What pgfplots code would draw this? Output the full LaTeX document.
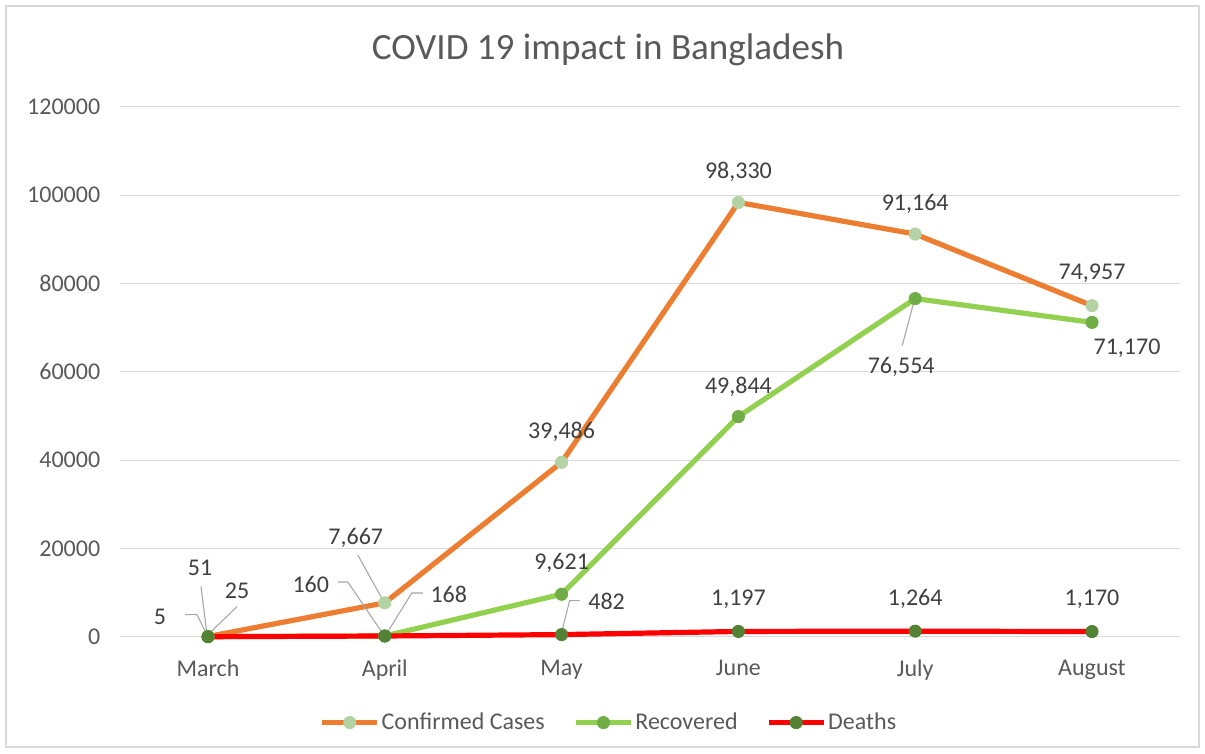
\documentclass[border=0pt]{standalone}
\usepackage{pgfplots}
\pgfplotsset{compat=1.18}
\usepackage{fontspec}
\setmainfont{Carlito}
\definecolor{cOrange}{HTML}{ED7D31}
\definecolor{cConfM}{HTML}{B3D3A5}
\definecolor{cRecL}{HTML}{92D050}
\definecolor{cRecM}{HTML}{70AD47}
\definecolor{cDeaM}{HTML}{548235}
\definecolor{cRed}{HTML}{FF0000}
\definecolor{cGrid}{HTML}{D9D9D9}
\definecolor{cTick}{HTML}{595959}
\definecolor{cLab}{HTML}{404040}
\definecolor{cLead}{HTML}{A6A6A6}
\newcommand{\dlab}[4]{\node[dlab] at ([shift={(#2*0.75pt,-#3*0.75pt)}]axis cs:#1) {#4};}
\begin{document}
\begin{tikzpicture}[
  dlab/.style={font=\fontsize{18}{21}\selectfont, text=cLab, inner sep=0pt, anchor=center},
  lead/.style={draw=cLead, line width=0.8pt}]
\path[use as bounding box] (0,0) rectangle (903.75pt,564.75pt);
\draw[cGrid, line width=0.8pt] (4.5pt,4.5pt) rectangle (899.25pt,560.25pt);
\node[text=cTick, font=\fontsize{27.8}{33}\selectfont, anchor=center] at (456pt,527.25pt) {COVID 19 impact in Bangladesh};
\begin{axis}[
  at={(89.7pt,87.2pt)}, anchor=south west,
  scale only axis, width=795.6pt, height=397.5pt,
  xmin=-0.5, xmax=5.5, ymin=0, ymax=120000,
  xtick={0,1,2,3,4,5},
  xticklabels={March,April,May,June,July,August},
  ytick={0,20000,40000,60000,80000,100000,120000},
  yticklabels={0,20000,40000,60000,80000,100000,120000},
  scaled y ticks=false,
  axis x line*=bottom, axis y line*=left,
  x axis line style={cGrid, line width=0.8pt, -},
  y axis line style={draw=none},
  ymajorgrids, grid style={cGrid, line width=0.8pt},
  major tick length=0pt,
  tick label style={font=\fontsize{18}{21}\selectfont, text=cTick},
  xticklabel style={yshift=-14pt},
  yticklabel style={xshift=-11pt},
  clip=false,
  legend columns=3,
  legend style={at={(0.1885,-0.162)}, anchor=west, draw=none, fill=none,
    font=\fontsize{18}{21}\selectfont, text=cTick, inner sep=0pt,
    nodes={inner sep=1.5pt},
    /tikz/every odd column/.append style={column sep=0pt},
    /tikz/every even column/.append style={column sep=20pt}},
  legend image code/.code={\draw[mark repeat=2,mark phase=2,#1] plot coordinates {(0pt,0pt)(20.5pt,0pt)(41pt,0pt)};},
]
\addplot[cOrange, line width=3.9pt, line join=round, mark=*, mark size=4.6pt,
  mark options={line width=0.6pt, draw=cConfM, fill=cConfM}]
  coordinates {(0,51) (1,7667) (2,39486) (3,98330) (4,91164) (5,74957)};
\addlegendentry{Confirmed Cases}
\addplot[cRecL, line width=3.9pt, line join=round, mark=*, mark size=4.6pt,
  mark options={line width=0.6pt, draw=cRecM, fill=cRecM}]
  coordinates {(0,25) (1,160) (2,9621) (3,49844) (4,76554) (5,71170)};
\addlegendentry{Recovered}
\addplot[cRed, line width=3.9pt, line join=round, mark=*, mark size=4.6pt,
  mark options={line width=0.6pt, draw=cDeaM, fill=cDeaM}]
  coordinates {(0,5) (1,168) (2,482) (3,1197) (4,1264) (5,1170)};
\addlegendentry{Deaths}
% leader lines
\draw[lead] ([shift={(-7*0.75pt,50*0.75pt)}]axis cs:0,51) -- ([shift={(-1*0.75pt,2*0.75pt)}]axis cs:0,51);
\draw[lead] ([shift={(29*0.75pt,30*0.75pt)}]axis cs:0,25) -- ([shift={(0pt,2*0.75pt)}]axis cs:0,25);
\draw[lead] ([shift={(-23*0.75pt,22*0.75pt)}]axis cs:0,5) -- ([shift={(-11*0.75pt,22*0.75pt)}]axis cs:0,5) -- ([shift={(-1*0.75pt,2*0.75pt)}]axis cs:0,5);
\draw[lead] ([shift={(-27*0.75pt,48*0.75pt)}]axis cs:1,7667) -- ([shift={(-1*0.75pt,1*0.75pt)}]axis cs:1,7667);
\draw[lead] ([shift={(-47*0.75pt,54*0.75pt)}]axis cs:1,160) -- ([shift={(-37*0.75pt,54*0.75pt)}]axis cs:1,160) -- ([shift={(-1*0.75pt,1*0.75pt)}]axis cs:1,160);
\draw[lead] ([shift={(38*0.75pt,43*0.75pt)}]axis cs:1,168) -- ([shift={(27*0.75pt,43*0.75pt)}]axis cs:1,168) -- ([shift={(1*0.75pt,1*0.75pt)}]axis cs:1,168);
\draw[lead] ([shift={(18*0.75pt,34*0.75pt)}]axis cs:2,482) -- ([shift={(8*0.75pt,34*0.75pt)}]axis cs:2,482) -- ([shift={(0pt,2*0.75pt)}]axis cs:2,482);
\draw[lead] ([shift={(-13*0.75pt,-47*0.75pt)}]axis cs:4,76554) -- ([shift={(-1*0.75pt,-2*0.75pt)}]axis cs:4,76554);
% data labels: confirmed
\dlab{0,51}{-8}{-69}{51}
\dlab{1,7667}{-29}{-65}{7,667}
\dlab{2,39486}{0}{-30}{39,486}
\dlab{3,98330}{0}{-31}{98,330}
\dlab{4,91164}{0}{-30}{91,164}
\dlab{5,74957}{0}{-32}{74,957}
% recovered
\dlab{0,25}{29}{-46}{25}
\dlab{1,160}{-74}{-52}{160}
\dlab{2,9621}{0}{-31}{9,621}
\dlab{3,49844}{0}{-30}{49,844}
\dlab{4,76554}{-14}{68}{76,554}
\dlab{5,71170}{35}{26}{71,170}
% deaths
\dlab{0,5}{-48}{-20}{5}
\dlab{1,168}{64}{-42}{168}
\dlab{2,482}{45}{-33}{482}
\dlab{3,1197}{0}{-32}{1,197}
\dlab{4,1264}{0}{-32}{1,264}
\dlab{5,1170}{0}{-32}{1,170}
\end{axis}
\end{tikzpicture}
\end{document}
